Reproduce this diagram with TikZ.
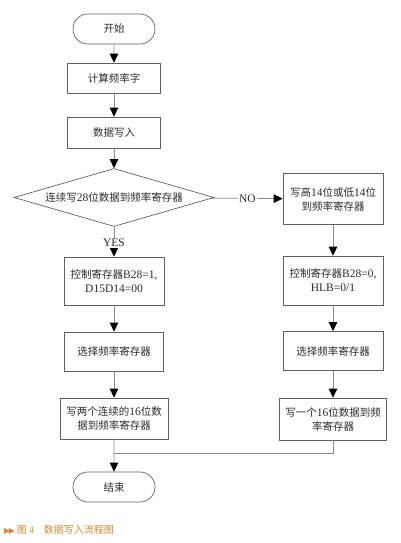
\documentclass[tikz,border=0pt]{standalone}
\usepackage{fontspec}
\setmainfont{Liberation Serif}
\newfontfamily\cjk{Noto Sans CJK SC}
\newfontfamily\symf{DejaVu Sans}
\newcommand{\lat}[1]{{\rmfamily\fontsize{11.5}{14}\selectfont #1}}
\usetikzlibrary{shapes.geometric,shapes.misc,arrows.meta}
\definecolor{linec}{HTML}{8A8A8A}
\definecolor{boxc}{HTML}{606060}
\definecolor{txtc}{HTML}{2A2A2A}
\definecolor{capc}{HTML}{D08A3A}
\begin{document}
\begin{tikzpicture}[x=1pt,y=1pt,
  every node/.style={text=txtc, font=\cjk\fontsize{10.5}{14}\selectfont},
  procbox/.style={draw=boxc, line width=0.7pt, rectangle, inner sep=0pt, align=center},
  term/.style={draw=boxc, line width=0.7pt, rounded rectangle, inner sep=0pt, minimum width=82pt, minimum height=30pt},
  decis/.style={draw=boxc, line width=0.7pt, diamond, inner sep=0pt, minimum width=200pt, minimum height=58pt},
  conn/.style={draw=linec, line width=0.8pt, -{Triangle[length=9pt,width=8.5pt,fill=black,color=black]}},
  plain/.style={draw=linec, line width=0.8pt},
  lbl/.style={fill=white, inner sep=1pt, font=\rmfamily\fontsize{11.5}{13}\selectfont}
]
\useasboundingbox (0,0) rectangle (400,-543);

\node[term] (start) at (114,-29) {开始};
\node[procbox, minimum width=93pt, minimum height=30pt] (calc) at (114,-78) {计算频率字};
\node[procbox, minimum width=93pt, minimum height=31pt] (write) at (114,-132.5) {数据写入};
\node[decis] (dec) at (114,-197.5) {\makebox[0pt]{连续写\lat{28}位数据到频率寄存器}};

\node[procbox, minimum width=100pt, minimum height=51pt] (r1) at (333,-199) {写高\lat{14}位或低\lat{14}位\\到频率寄存器};
\node[procbox, minimum width=100pt, minimum height=49pt] (r2) at (333,-280.5) {控制寄存器\lat{B28=0,}\\\lat{HLB=0/1}};
\node[procbox, minimum width=100pt, minimum height=39pt] (r3) at (333,-351) {选择频率寄存器};
\node[procbox, minimum width=107pt, minimum height=42pt] (r4) at (333,-419) {写一个\lat{16}位数据到频\\率寄存器};

\node[procbox, minimum width=100pt, minimum height=48pt] (l1) at (114,-281) {控制寄存器\lat{B28=1,}\\\lat{D15D14=00}};
\node[procbox, minimum width=99pt, minimum height=39pt] (l2) at (114,-351.5) {选择频率寄存器};
\node[procbox, minimum width=108pt, minimum height=41pt] (l3) at (114,-418.5) {写两个连续的\lat{16}位数\\据到频率寄存器};

\node[term] (stop) at (114,-487) {结束};

\coordinate (mr) at (333,-453);
\coordinate (ml) at (114,-453);

\draw[conn] (start) -- (calc);
\draw[conn] (calc) -- (write);
\draw[conn] (write) -- (dec);
\draw[conn] (dec) -- node[lbl] {NO} (r1);
\draw[conn] (dec) -- node[lbl, pos=0.55] {YES} (l1);
\draw[conn] (r1) -- (r2);
\draw[conn] (r2) -- (r3);
\draw[conn] (r3) -- (r4);
\draw[conn] (l1) -- (l2);
\draw[conn] (l2) -- (l3);
\draw[plain] (r4.south) -- (mr) -- (ml);
\draw[conn] (l3) -- (stop);

\node[anchor=west, inner sep=0pt, text=capc] (cap) at (4,-530)
  {{\symf\fontsize{8}{10}\selectfont ▶\kern-1.5pt▶}\,{\cjk\fontsize{10}{12}\selectfont 图 \rmfamily 4\hspace{10pt}\cjk 数据写入流程图}};
\end{tikzpicture}
\end{document}
